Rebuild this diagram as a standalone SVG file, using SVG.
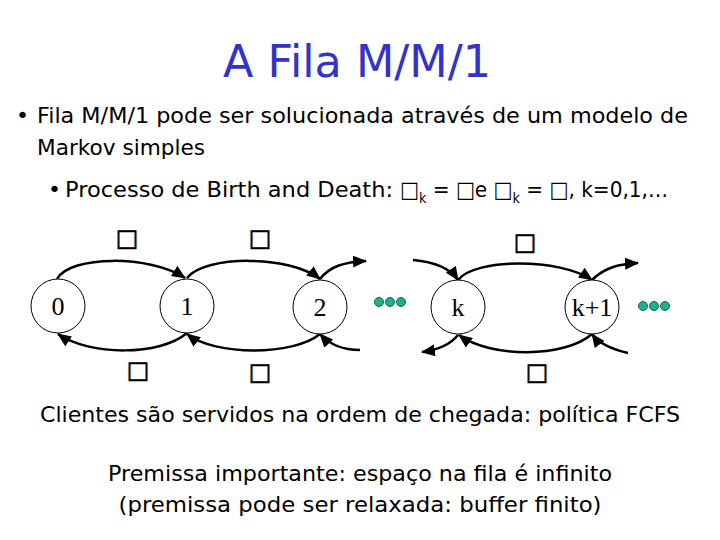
<svg xmlns="http://www.w3.org/2000/svg" width="720" height="540" viewBox="0 0 720 540">
<style>
.title{font-family:"DejaVu Sans",sans-serif;font-size:44px;fill:#3333cc;text-anchor:middle}
.body{font-family:"DejaVu Sans",sans-serif;font-size:22px;fill:#000}
.node circle{fill:#fff;stroke:#000;stroke-width:1}
.node text{font-family:"Liberation Serif",serif;font-size:26px;text-anchor:middle;fill:#000}
.lbl{font-family:"DejaVu Sans",sans-serif;font-size:24px;text-anchor:middle;fill:#000;stroke:#000;stroke-width:0.6}
.edge{fill:none;stroke:#000;stroke-width:2.5;marker-end:url(#arr)}
.dot{fill:#20b088;stroke:#0c6a50;stroke-width:1}
</style>
<defs>
<marker id="arr" markerUnits="userSpaceOnUse" markerWidth="14" markerHeight="12" refX="13" refY="6" orient="auto">
<path d="M0,0 L14,6 L0,12 z" fill="#000"/>
</marker>
</defs>
<rect width="720" height="540" fill="#fff"/>
<text class="title" x="357" y="77" textLength="268" lengthAdjust="spacingAndGlyphs">A Fila M/M/1</text>
<text class="body" x="16" y="123">•</text>
<text class="body" x="37" y="123" textLength="651" lengthAdjust="spacingAndGlyphs">Fila M/M/1 pode ser solucionada através de um  modelo de</text>
<text class="body" x="37" y="155" textLength="168" lengthAdjust="spacingAndGlyphs">Markov simples</text>
<text class="body" x="48" y="197" font-size="18">•</text>
<text class="body" x="65" y="197" textLength="328" lengthAdjust="spacingAndGlyphs">Processo de Birth and Death:</text>
<text class="body" x="400" y="197" textLength="268" lengthAdjust="spacingAndGlyphs">□<tspan font-size="14" dy="6">k</tspan><tspan dy="-6"> = □e  □</tspan><tspan font-size="14" dy="6">k</tspan><tspan dy="-6"> = □,  k=0,1,…</tspan></text>
<g id="edges">
<path class="edge" d="M57 279 C70 255,150 255,185 278"/>
<path class="edge" d="M187 278 C205 255,290 255,320 279"/>
<path class="edge" d="M320 279 C330 266,345 262,366 261"/>
<path class="edge" d="M413 260 C435 262,450 268,458 280"/>
<path class="edge" d="M458 280 C475 258,560 258,592 280"/>
<path class="edge" d="M592 280 C605 267,620 264,638 263"/>
<path class="edge" d="M187 333 C160 356,90 356,58 334"/>
<path class="edge" d="M320 334 C293 356,215 356,187 334"/>
<path class="edge" d="M360 350 C345 350,330 345,320 334"/>
<path class="edge" d="M592 334 C565 358,490 358,459 335"/>
<path class="edge" d="M458 335 C450 345,437 350,422 352"/>
<path class="edge" d="M628 353 C615 350,600 345,592 334"/>
</g>
<g id="labels">
<text class="lbl" x="127" y="246">□</text>
<text class="lbl" x="260" y="246">□</text>
<text class="lbl" x="525" y="250">□</text>
<text class="lbl" x="138" y="378">□</text>
<text class="lbl" x="260" y="380">□</text>
<text class="lbl" x="537" y="380">□</text>
</g>
<g id="node0" class="node"><circle cx="58" cy="306" r="27"/><text x="58" y="315">0</text></g>
<g id="node1" class="node"><circle cx="187" cy="306" r="27"/><text x="187" y="315">1</text></g>
<g id="node2" class="node"><circle cx="320" cy="307" r="27"/><text x="320" y="316">2</text></g>
<g id="nodek" class="node"><circle cx="458" cy="307" r="27"/><text x="458" y="316">k</text></g>
<g id="nodek1" class="node"><circle cx="592" cy="307" r="27"/><text x="592" y="316">k+1</text></g>
<g id="dots1"><circle class="dot" cx="379" cy="302" r="4.5"/><circle class="dot" cx="390" cy="302" r="4.5"/><circle class="dot" cx="401" cy="302" r="4.5"/></g>
<g id="dots2"><circle class="dot" cx="643" cy="306" r="4.5"/><circle class="dot" cx="654" cy="306" r="4.5"/><circle class="dot" cx="665" cy="306" r="4.5"/></g>
<text class="body" x="360" y="422" text-anchor="middle" textLength="640" lengthAdjust="spacingAndGlyphs">Clientes são servidos na ordem de chegada: política FCFS</text>
<text class="body" x="360" y="481" text-anchor="middle" textLength="504" lengthAdjust="spacingAndGlyphs">Premissa importante: espaço na fila é infinito</text>
<text class="body" x="360" y="512" text-anchor="middle" textLength="483" lengthAdjust="spacingAndGlyphs">(premissa pode ser relaxada: buffer finito)</text>
</svg>
